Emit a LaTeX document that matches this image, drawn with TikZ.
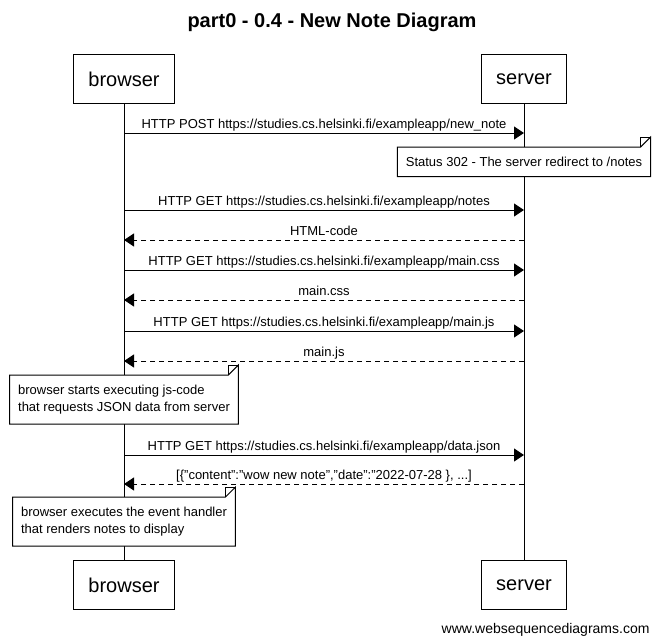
\documentclass[tikz,border=0pt]{standalone}
\usepackage{fontspec}
\setmainfont{Liberation Sans}
\usetikzlibrary{arrows.meta}
\begin{document}
\begin{tikzpicture}[x=1pt,y=-1pt,line width=1pt,
  actor/.style={draw,fill=white,minimum height=49pt,inner xsep=15pt,font=\fontsize{20}{24}\selectfont},
  msg/.style={-{Triangle[length=10pt,width=13pt]}},
  ret/.style={msg,dash pattern=on 5pt off 4pt},
  lbl/.style={font=\fontsize{13}{15}\selectfont,inner sep=0pt,anchor=base},
  notetext/.style={font=\fontsize{13}{17}\selectfont,align=left,inner xsep=8pt,inner ysep=9.5pt,anchor=north},
  notebox/.style={draw,fill=white},
  lifeline/.style={draw}
]
\useasboundingbox (0,0) rectangle (659,643);
\node[font=\bfseries\fontsize{20}{24}\selectfont] (title) at (332,22) {part0 - 0.4 - New Note Diagram};

\node[actor,anchor=north] (bt) at (124,54) {browser};
\node[actor,anchor=north] (st) at (524,54) {server};
\node[actor,anchor=north] (bb) at (124,560) {browser};
\node[actor,anchor=north] (sb) at (524,560) {server};
\draw (bt.south) -- (bb.north);
\draw (st.south) -- (sb.north);

% messages
\newcommand{\msgline}[4]{%
  \coordinate (L#1) at (124,#2);
  \coordinate (R#1) at (524,#2);
  \node[lbl] (t#1) at (324,#2-5) {#4};
  \ifx#3r\draw[ret] (R#1) -- (L#1);\else\draw[msg] (L#1) -- (R#1);\fi
}
\msgline{1}{133}{s}{HTTP POST https://studies.cs.helsinki.fi/exampleapp/new\_note}
\msgline{2}{210}{s}{HTTP GET https://studies.cs.helsinki.fi/exampleapp/notes}
\msgline{3}{240}{r}{HTML-code}
\msgline{4}{270}{s}{HTTP GET https://studies.cs.helsinki.fi/exampleapp/main.css}
\msgline{5}{300}{r}{main.css}
\msgline{6}{331}{s}{HTTP GET https://studies.cs.helsinki.fi/exampleapp/main.js}
\msgline{7}{361}{r}{main.js}
\msgline{8}{455}{s}{HTTP GET https://studies.cs.helsinki.fi/exampleapp/data.json}
\msgline{9}{484}{r}{[\{"content":"wow new note","date":"2022-07-28 \}, ...]}

% notes
\newcommand{\notebox}[4]{%
  \node[notetext] (#1) at (#2,#3) {#4};
  \path[notebox] (#1.north west) -- ([xshift=-10pt]#1.north east) -- ([yshift=10pt]#1.north east) -- (#1.south east) -- (#1.south west) -- cycle;
  \draw ([xshift=-10pt]#1.north east) -- ([xshift=-10pt,yshift=10pt]#1.north east) -- ([yshift=10pt]#1.north east);
  \node[notetext] at (#1.north) {#4};
}
\notebox{n1}{524}{147}{Status 302 - The server redirect to /notes}
\notebox{n2}{124}{375}{browser starts executing js-code\\that requests JSON data from server}
\notebox{n3}{124}{497}{browser executes the event handler\\that renders notes to display}

\node[font=\fontsize{14}{16}\selectfont,anchor=base east,inner sep=0pt] (footer) at (650,633) {www.websequencediagrams.com};
\end{tikzpicture}
\end{document}
